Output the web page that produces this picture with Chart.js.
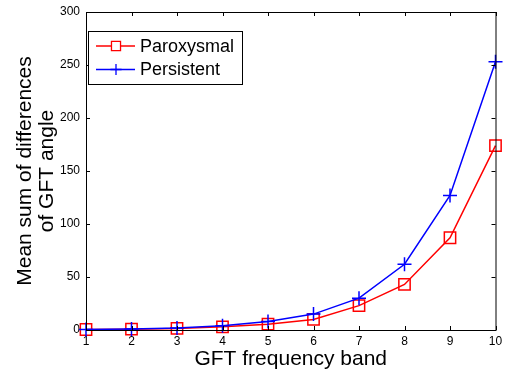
<!DOCTYPE html>
<html>
<head>
<meta charset="utf-8">
<script src="https://cdn.jsdelivr.net/npm/chart.js@4/dist/chart.umd.min.js"></script>
<style>
  html, body { margin: 0; padding: 0; background: #fff; }
</style>
</head>
<body>
<canvas id="gft-chart" width="505" height="374"></canvas>
<script>
// values
var bands = [1, 2, 3, 4, 5, 6, 7, 8, 9, 10];
var paroxysmal = [0.5, 0.8, 1.5, 3, 5.5, 10, 23, 43, 87, 174];
var persistent = [0.5, 1, 2, 4, 8, 15, 30, 62, 127, 253];
var yTicks = [0, 50, 100, 150, 200, 250, 300];

var FONT = "'Liberation Sans', Arial, sans-serif";

var toPoints = function (ys) {
    return bands.map(function (b, i) { return { x: b, y: ys[i] }; });
};

// matlab style box with inward ticks + framed legend
var matlabBox = {
    id: 'matlabBox',
    afterDraw: function (chart) {
        var ctx = chart.ctx;
        var a = chart.chartArea;
        var xs = chart.scales.x, ys = chart.scales.y;
        ctx.save();
        ctx.strokeStyle = '#000';
        ctx.lineWidth = 1;
        ctx.strokeRect(a.left + 0.5, a.top + 0.5, a.right - a.left, a.bottom - a.top);
        ctx.beginPath();
        bands.forEach(function (b) {
            var px = Math.round(xs.getPixelForValue(b)) + 0.5;
            ctx.moveTo(px, a.bottom); ctx.lineTo(px, a.bottom - 4);
            ctx.moveTo(px, a.top); ctx.lineTo(px, a.top + 4);
        });
        yTicks.forEach(function (v) {
            var py = Math.round(ys.getPixelForValue(v)) + 0.5;
            ctx.moveTo(a.left, py); ctx.lineTo(a.left + 4, py);
            ctx.moveTo(a.right, py); ctx.lineTo(a.right - 4, py);
        });
        ctx.stroke();

        // legend
        var lx = 88, ly = 31, lw = 154, lh = 53;
        ctx.fillStyle = '#fff';
        ctx.fillRect(lx, ly, lw, lh);
        ctx.strokeRect(lx + 0.5, ly + 0.5, lw, lh);
        var rows = [chart.data.datasets[0], chart.data.datasets[1]];
        ctx.font = '18px ' + FONT;
        ctx.textBaseline = 'middle';
        rows.forEach(function (ds, i) {
            var cy = 46 + i * 23.5;
            ctx.strokeStyle = ds.borderColor;
            ctx.lineWidth = 1.3;
            ctx.beginPath();
            ctx.moveTo(96, cy); ctx.lineTo(135, cy);
            ctx.stroke();
            Chart.helpers.drawPoint(ctx, {
                pointStyle: ds.pointStyle,
                radius: ds.pointRadius * 0.8,
                borderWidth: 1.3,
                rotation: 0
            }, 116, cy);
            ctx.fillStyle = '#000';
            ctx.fillText(ds.label, 140, cy + 1);
        });
        ctx.restore();
    }
};

var config = {
    type: 'line',
    data: {
        datasets: [{
            label: 'Paroxysmal',
            data: toPoints(paroxysmal),
            borderColor: 'rgb(255, 0, 0)',
            backgroundColor: 'rgba(0, 0, 0, 0)',
            borderWidth: 1.5,
            pointStyle: 'rect',
            pointRadius: 8,
            pointBorderWidth: 1.5,
            pointBorderColor: 'rgb(255, 0, 0)',
            pointBackgroundColor: 'rgba(0, 0, 0, 0)',
            tension: 0,
            clip: false,
            order: 1
        }, {
            label: 'Persistent',
            data: toPoints(persistent),
            borderColor: 'rgb(0, 0, 255)',
            backgroundColor: 'rgba(0, 0, 0, 0)',
            borderWidth: 1.5,
            pointStyle: 'cross',
            pointRadius: 7,
            pointBorderWidth: 1.5,
            pointBorderColor: 'rgb(0, 0, 255)',
            tension: 0,
            clip: false,
            order: 0
        }]
    },
    options: {
        responsive: false,
        animation: false,
        layout: { padding: { top: 12, right: 6, left: 0, bottom: 0 } },
        plugins: {
            legend: { display: false },
            tooltip: { enabled: false }
        },
        scales: {
            x: {
                type: 'linear',
                min: 1,
                max: 10,
                grid: { display: false, drawTicks: false },
                border: { display: false },
                ticks: {
                    stepSize: 1,
                    autoSkip: false,
                    maxRotation: 0,
                    padding: 4,
                    color: '#000',
                    font: { family: FONT, size: 12 }
                },
                title: {
                    display: true,
                    text: 'GFT frequency band',
                    color: '#000',
                    font: { family: FONT, size: 21, lineHeight: 1.05 },
                    padding: { top: 0, bottom: 4 }
                },
                afterFit: function (scale) {
                    scale.height = 44;
                    scale.paddingLeft = 0;
                    scale.paddingRight = 0;
                }
            },
            y: {
                min: 0,
                max: 300,
                grid: { display: false, drawTicks: false },
                border: { display: false },
                afterBuildTicks: function (scale) {
                    scale.ticks = yTicks.map(function (v) { return { value: v }; });
                },
                ticks: {
                    padding: 6,
                    color: '#000',
                    font: { family: FONT, size: 12 }
                },
                title: {
                    display: true,
                    text: ['Mean sum of differences', 'of GFT angle'],
                    color: '#000',
                    font: { family: FONT, size: 21, lineHeight: 1.05 },
                    padding: { top: 14, bottom: 0 }
                },
                afterFit: function (scale) {
                    scale.width = 86;
                    scale.paddingTop = 0;
                    scale.paddingBottom = 0;
                }
            }
        }
    },
    plugins: [matlabBox]
};

var ctx = document.getElementById('gft-chart').getContext('2d');
window.gftChart = new Chart(ctx, config);
</script>
</body>
</html>
